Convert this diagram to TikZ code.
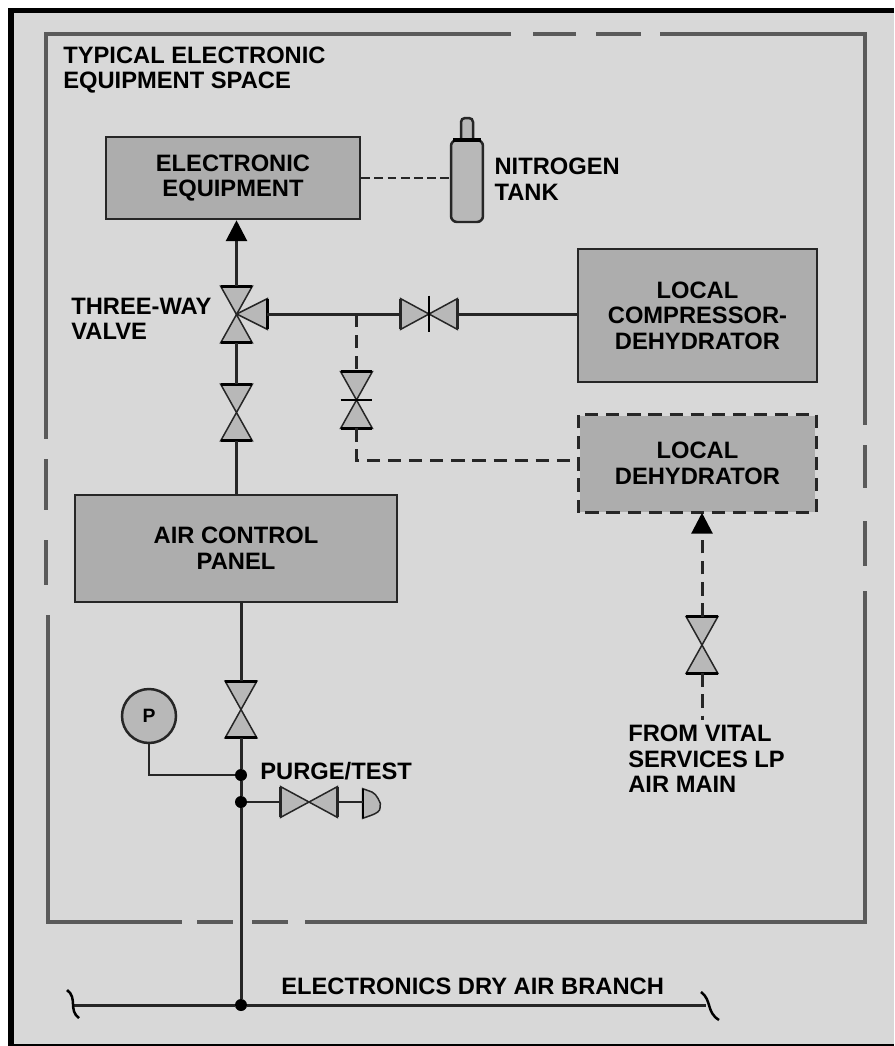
\documentclass[tikz,border=0pt]{standalone}
\usepackage{fontspec}
\setmainfont{Liberation Sans}
\usetikzlibrary{arrows.meta,positioning}
\definecolor{panel}{HTML}{D8D8D8}
\definecolor{boxgray}{HTML}{ADADAD}
\definecolor{valvegray}{HTML}{B8B8B8}
\definecolor{framegray}{HTML}{5A5A5A}
\definecolor{linegray}{HTML}{262626}
\begin{document}
\begin{tikzpicture}[x=0.02cm, y=-0.02cm, every node/.style={font=\bfseries\fontsize{13.5}{14.6}\selectfont, text=black},
  unit/.style={draw=linegray, line width=0.05cm, fill=boxgray, align=center, inner sep=0pt},
  lbl/.style={align=left, inner sep=0pt, anchor=west},
  vvalve/.style={minimum width=0.62cm, minimum height=1.12cm, inner sep=0pt},
  hvalve/.style={minimum width=1.12cm, minimum height=0.6cm, inner sep=0pt},
  bow/.style={draw=linegray, line width=0.03cm, fill=valvegray},
  base/.style={draw=black, line width=0.06cm},
  dot/.style={circle, fill=black, minimum size=0.24cm, inner sep=0pt},
  pipe/.style={draw=linegray, line width=0.06cm},
  dpipe/.style={pipe, dash pattern=on 7.5pt off 4.5pt},
  arr/.style={-{Triangle[length=0.42cm, width=0.42cm, color=black]}},
  frm/.style={draw=framegray, line width=0.065cm}]
\useasboundingbox (0,0) rectangle (894,1046);
\fill[white] (0,0) rectangle (894,1046);
\fill[black] (8,8) rectangle (894,1046);
\fill[panel] (14,13) rectangle (894,1044);
% space outline
\draw[frm] (511,34) -- (46,34) -- (46,439);
\draw[frm] (660,34) -- (865,34) -- (865,425);
\draw[frm] (48,615) -- (48,922) -- (182,922);
\draw[frm] (305,922) -- (865,922) -- (865,591);
\foreach \a/\b in {533/576,596/641} \draw[frm] (\a,34) -- (\b,34);
\foreach \a/\b in {197/233,252/288} \draw[frm] (\a,922) -- (\b,922);
\foreach \a/\b in {459/510,540/585} \draw[frm] (46,\a) -- (46,\b);
\foreach \a/\b in {445/488,521/566} \draw[frm] (865,\a) -- (865,\b);
% units
\node[unit, minimum width=5.08cm, minimum height=1.64cm] (ee) at (233,178) {ELECTRONIC\\EQUIPMENT};
\node[unit, minimum width=4.78cm, minimum height=2.66cm] (lc) at (697.5,315.5) {LOCAL\\COMPRESSOR-\\DEHYDRATOR};
\node[unit, draw=none, minimum width=4.72cm, minimum height=1.92cm] (ld) at (697.5,463.5) {LOCAL\\DEHYDRATOR};
\draw[dpipe] (ld.south west) rectangle (ld.north east);
\node[unit, minimum width=6.44cm, minimum height=2.14cm] (acp) at (236,548.5) {AIR CONTROL\\PANEL};
\node[unit, circle, fill=valvegray, minimum size=1.08cm, font=\bfseries\fontsize{11}{12}\selectfont] (gauge) at (149,716) {P};
% tank
\node[unit, fill=valvegray, rounded corners=0.12cm, minimum width=0.64cm, minimum height=1.64cm] (tank) at (467,181) {};
\draw[bow, line width=0.05cm, rounded corners=0.08cm] (461,140) -- (461,118) -- (473,118) -- (473,140);
\draw[line width=0.09cm, draw=black] (453,140) -- (481,140);
% valves
\node[vvalve] (twv) at (236.5,314.5) {};
\node[minimum width=0.6cm, minimum height=0.6cm, inner sep=0pt] (twb) at (252,314) {};
\node[vvalve] (iv) at (236.5,412.5) {};
\node[hvalve] (hv) at (429,314) {};
\node[vvalve] (dv) at (356.5,400) {};
\node[vvalve] (fv) at (702,645) {};
\node[vvalve] (pv) at (241,709.5) {};
\node[hvalve] (tv) at (309,802) {};
\node[minimum width=0.34cm, minimum height=0.58cm, inner sep=0pt] (cap) at (371.5,803.5) {};
\foreach \v in {twv,iv,dv,fv,pv} {
  \draw[bow] (\v.north west) -- (\v.north east) -- (\v.south west) -- (\v.south east) -- cycle;
  \draw[base] (\v.north west) -- (\v.north east);
  \draw[base] (\v.south west) -- (\v.south east);
}
\foreach \v in {hv,tv} {
  \draw[bow] (\v.north west) -- (\v.south west) -- (\v.north east) -- (\v.south east) -- cycle;
  \draw[bow, line width=0.05cm, fill=none] (\v.north west) -- (\v.south west);
  \draw[bow, line width=0.05cm, fill=none] (\v.north east) -- (\v.south east);
}
\draw[bow] (twb.west) -- (twb.north east) -- (twb.south east) -- cycle;
\draw[base] (twb.north east) -- (twb.south east);
\draw[bow] (cap.south west) -- (cap.north west) -- (372,792) .. controls (377,794) and (cap.east) .. (cap.east) -- (380,808) .. controls (380,811) and (377,813) .. (372,815) -- cycle;
\draw[base, line width=0.04cm] (cap.north west) -- (cap.south west);
\draw[draw=black, line width=0.04cm] ([yshift=0.06cm]hv.north) -- ([yshift=-0.06cm]hv.south);
\draw[draw=black, line width=0.04cm] (dv.west) -- (dv.east);
% junctions
\coordinate (tee) at (356.5,314);
\coordinate (knee) at (356.5,460);
\coordinate (bl) at (74,1005);
\coordinate (br) at (706,1005);
\coordinate (src) at (702,720);
\node[dot] (j1) at (241,775) {};
\node[dot] (j2) at (241,802) {};
\node[dot] (j3) at (241,1005) {};
% piping
\draw[pipe, arr] (twv.north) -- (twv.north |- ee.south);
\draw[pipe] (twb.east) -- (hv.west);
\draw[pipe] (hv.east) -- (lc.west |- hv.east);
\draw[pipe] (twv.south) -- (iv.north);
\draw[pipe] (iv.south) -- (iv.south |- acp.north);
\draw[pipe] (pv.north |- acp.south) -- (pv.north);
\draw[pipe] (pv.south) -- (j1);
\draw[pipe] (j1) -- (j2);
\draw[pipe] (j2) -- (j3);
\draw[pipe, line width=0.045cm] (gauge.south) |- (j1);
\draw[pipe, line width=0.045cm] (j2) -- (tv.west);
\draw[pipe, line width=0.045cm] (tv.east) -- (tv.east -| cap.west);
\draw[pipe] (bl) -- (j3);
\draw[pipe] (j3) -- (br);
\draw[dpipe, line width=0.03cm, dash pattern=on 5pt off 2.5pt] (ee.east) -- (ee.east -| tank.west);
\draw[dpipe] (tee) -- (dv.north);
\draw[dpipe] (dv.south) -- (knee) -- (knee -| ld.west);
\draw[dpipe, arr] (fv.north) -- (fv.north |- ld.south);
\draw[dpipe] (fv.south) -- (src);
% pipe breaks
\draw[line width=0.05cm, draw=black] (67,990) .. controls (78,998) and (68,1010) .. (79,1018);
\draw[line width=0.05cm, draw=black] (701,992) .. controls (712,1000) and (706,1012) .. (719,1020);
% labels
\node[lbl] (space) at (63,70) {TYPICAL ELECTRONIC\\EQUIPMENT SPACE};
\node[lbl, right=0.2cm of tank, yshift=0.04cm] (tlabel) {NITROGEN\\TANK};
\node[lbl] (twlabel) at (71,319) {THREE-WAY\\VALVE};
\node[lbl] (plabel) at (260,771) {PURGE/TEST};
\node[lbl] (from) at (628,759) {FROM VITAL\\SERVICES LP\\AIR MAIN};
\node[lbl] (branch) at (281,986) {ELECTRONICS DRY AIR BRANCH};
\end{tikzpicture}
\end{document}
